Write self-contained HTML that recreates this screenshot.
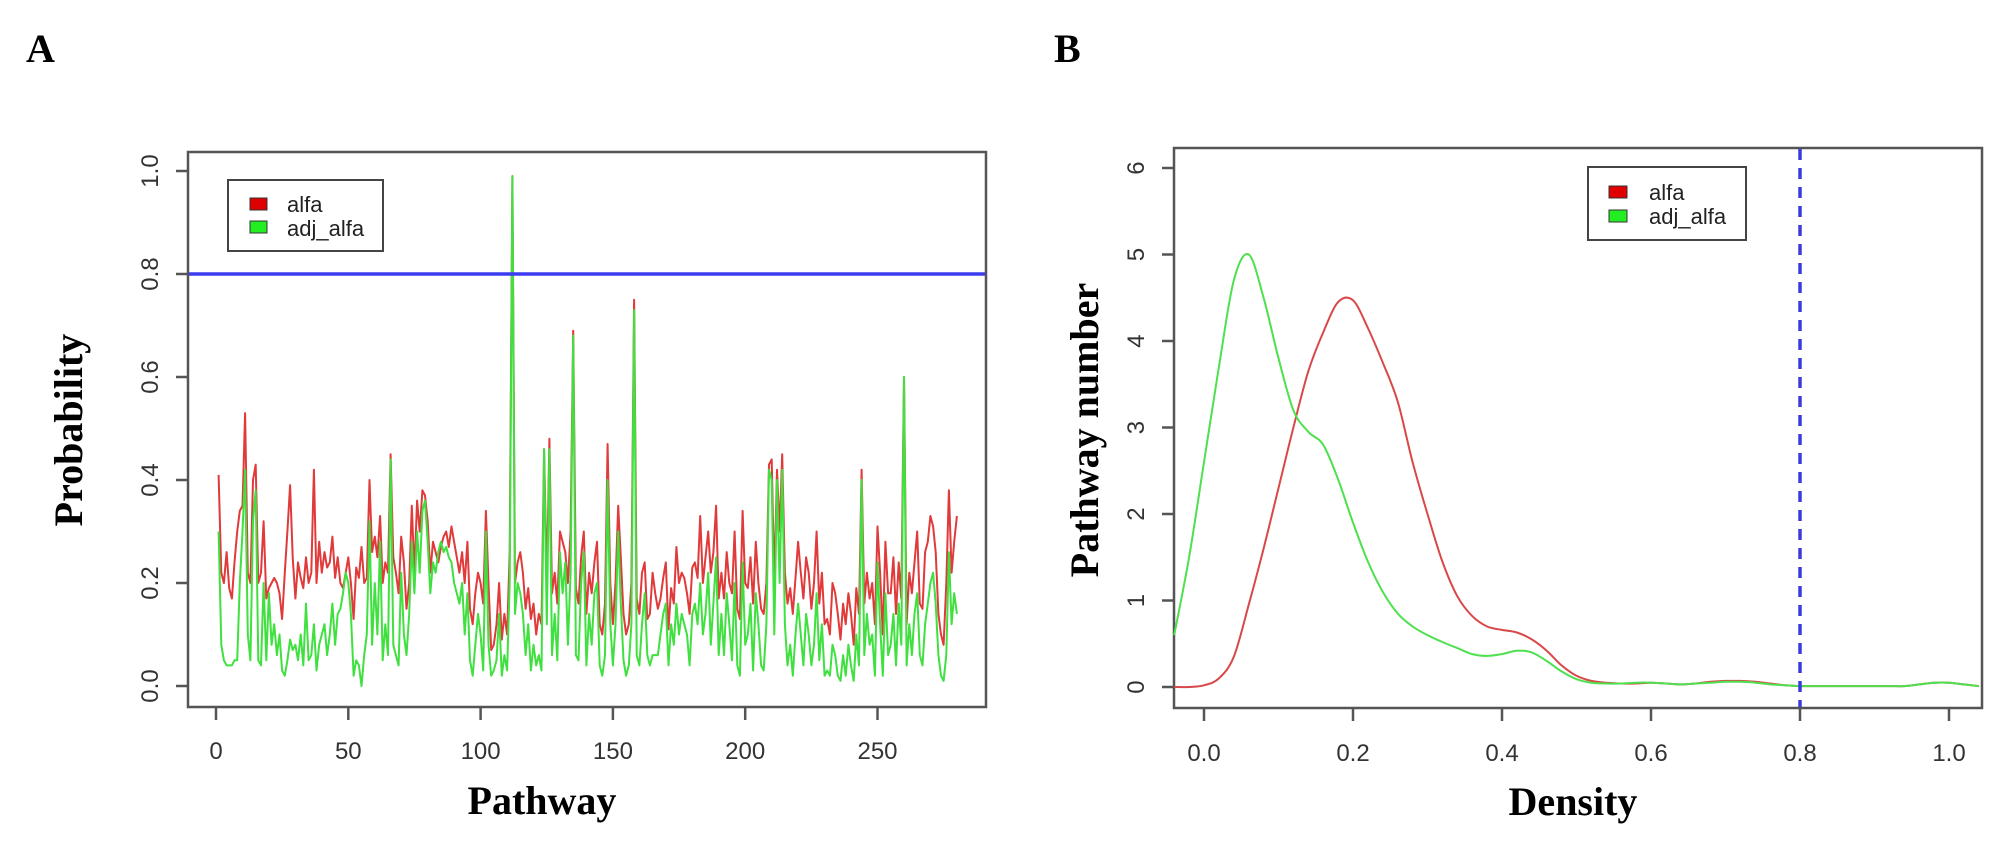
<!DOCTYPE html>
<html><head><meta charset="utf-8"><style>
html,body{margin:0;padding:0;background:#fff;}
svg{display:block;}
.tk{font-family:"Liberation Sans",sans-serif;font-size:24px;fill:#333;}
.ttl{font-family:"Liberation Serif",serif;font-weight:bold;font-size:40px;fill:#000;}
.lg{font-family:"Liberation Sans",sans-serif;font-size:22px;fill:#222;}
</style></head><body>
<svg id="chart" width="1994" height="843" viewBox="0 0 1994 843" xmlns="http://www.w3.org/2000/svg">
<text x="26" y="62" class="ttl">A</text>
<text x="1054" y="62" class="ttl">B</text>
<g id="pa"></g>
<g id="pb"></g>
</svg>
<script>
// Panel A data (percent)
const alfa = [41,22,20,26,19,17,24,30,34,35, 53,22,20,40,43,20,22,32,17,19, 20,21,20,18,13,22,30,39,25,17, 24,21,19,25,20,22,42,20,28,22,
26,23,24,29,21,25,20,19,22,25, 20,13,23,21,27,20,21,40,26,29, 25,33,20,24,22,45,25,22,18,29, 24,15,20,35,22,36,30,38,37,32,
22,28,26,24,27,29,30,27,31,28, 25,22,26,20,28,15,12,18,22,20, 16,34,20,7,8,12,20,9,14,10, 26,99,20,24,26,22,15,19,13,16,
10,14,12,46,20,48,18,22,16,30, 28,26,20,30,69,19,16,25,30,14, 22,18,24,28,12,10,16,47,20,12, 20,35,25,14,10,12,20,75,17,14,
22,24,13,14,22,18,15,17,21,24, 11,19,16,27,20,22,21,18,14,23, 24,21,33,20,25,30,22,26,35,17, 22,17,26,20,18,30,15,13,34,20,
19,25,16,28,20,15,14,20,43,44, 20,42,30,45,22,16,19,14,21,28, 22,17,25,22,15,20,30,16,22,12, 13,10,20,18,14,9,16,12,18,14,
8,19,14,42,16,22,17,20,12,31, 22,10,28,18,18,25,14,24,17,60, 12,22,18,24,30,16,15,26,28,33, 31,26,14,10,8,20,38,22,28,33];
const adjAlfa = [30,8,5,4,4,4,5,5,20,30, 42,10,5,32,38,5,4,20,5,18, 8,12,6,10,3,2,5,9,7,8, 5,10,4,16,5,6,12,3,8,10,
12,6,10,16,8,14,15,18,22,20, 14,2,5,4,0,6,10,32,8,20, 10,28,5,12,6,44,8,6,4,22, 10,6,14,28,18,30,22,34,36,28,
18,24,22,26,28,26,27,25,24,20, 18,16,20,10,18,5,2,8,14,10, 3,30,8,2,3,5,14,2,6,3, 20,99,14,20,18,14,6,12,3,8,
4,6,3,46,12,46,6,14,5,26, 18,24,8,22,68,6,5,20,26,4, 14,8,18,20,4,2,6,40,12,4, 12,30,16,5,2,4,12,73,6,4,
12,18,6,4,6,6,6,10,14,16, 4,12,8,16,10,14,12,10,4,14, 16,12,20,10,14,22,8,16,25,6, 14,6,18,12,5,20,4,2,24,8,
10,16,3,18,12,4,3,12,42,40, 10,40,20,42,12,4,8,2,10,16, 10,4,14,10,4,8,18,5,12,2, 3,2,8,6,2,1,6,2,8,4,
1,10,4,40,6,14,8,10,2,24, 12,2,18,6,8,14,4,16,8,60, 4,12,6,14,18,6,4,12,16,20, 22,16,6,2,1,6,26,12,18,14];
const aXTicks = [0,50,100,150,200,250];
const aYTicks = [0.0,0.2,0.4,0.6,0.8,1.0];
const aThreshold = [0.8];
// Panel B data
const densX = [-0.04,-0.02,0,0.02,0.04,0.06,0.08,0.10,0.12,0.14,0.16,0.18,0.20,0.22,0.24,0.26,0.28,0.30,0.32,0.34,0.36,0.38,0.40,0.42,0.44,0.46,0.48,0.50,0.52,0.54,0.56,0.58,0.60,0.62,0.64,0.66,0.68,0.70,0.72,0.74,0.76,0.78,0.80,0.82,0.84,0.86,0.88,0.90,0.92,0.94,0.96,0.98,1.00,1.02,1.04];
const densAlfa = [0,0,0.02,0.1,0.35,0.95,1.6,2.3,3.0,3.65,4.1,4.45,4.47,4.15,3.75,3.3,2.6,2.0,1.45,1.05,0.82,0.7,0.66,0.63,0.55,0.42,0.25,0.13,0.07,0.05,0.04,0.04,0.05,0.04,0.03,0.04,0.06,0.07,0.07,0.06,0.04,0.02,0.01,0.01,0.01,0.01,0.01,0.01,0.01,0.01,0.03,0.05,0.05,0.03,0.01];
const densAdj = [0.6,1.5,2.6,3.7,4.7,5.0,4.5,3.8,3.2,2.95,2.8,2.4,1.9,1.45,1.1,0.85,0.7,0.6,0.52,0.45,0.38,0.36,0.38,0.42,0.4,0.3,0.18,0.09,0.05,0.04,0.04,0.05,0.05,0.04,0.03,0.04,0.05,0.06,0.06,0.05,0.03,0.02,0.01,0.01,0.01,0.01,0.01,0.01,0.01,0.01,0.03,0.05,0.05,0.03,0.01];
const bXTicks = [0.0,0.2,0.4,0.6,0.8,1.0];
const bYTicks = [0,1,2,3,4,5,6];
const bCutoff = [0.8];

const NS='http://www.w3.org/2000/svg';
function mk(parent,tag,attrs,text){const e=document.createElementNS(NS,tag);for(const k in attrs)e.setAttribute(k,attrs[k]);if(text!==undefined)e.textContent=text;parent.appendChild(e);return e;}

// ---------- Panel A ----------
const pa=document.getElementById('pa');
const ax=v=>216+v*2.646, ay=v=>686-v*515;
let e;
e=mk(pa,'rect',{x:188,y:152,width:798,height:555,fill:'none',stroke:'#555','stroke-width':2.5});

aXTicks.forEach(t=>{
  e=mk(pa,'line',{x1:ax(t),x2:ax(t),y1:707,y2:720,stroke:'#555','stroke-width':2.5});
  
  e=mk(pa,'text',{x:ax(t),y:759,'text-anchor':'middle',class:'tk'},String(t));
  
});
aYTicks.forEach(t=>{
  e=mk(pa,'line',{x1:176,x2:188,y1:ay(t),y2:ay(t),stroke:'#555','stroke-width':2.5});
  
  e=mk(pa,'text',{x:158,y:ay(t),'text-anchor':'middle',class:'tk',transform:`rotate(-90 158 ${ay(t)})`},t.toFixed(1));
  
});
function series(g,vals,color,name){
  const pts=vals.map((v,i)=>ax(i+1).toFixed(1)+','+ay(v/100).toFixed(1)).join(' ');
  const p=mk(g,'polyline',{points:pts,fill:'none',stroke:color,'stroke-width':2,'stroke-linejoin':'round'});
  
}
series(pa,alfa,'#e03a3a','alfa-line');
series(pa,adjAlfa,'#3fe03f','adj-alfa-line');
aThreshold.forEach(t=>{
  e=mk(pa,'line',{x1:189,x2:985,y1:ay(t),y2:ay(t),stroke:'#3b3bf0','stroke-width':3.5});
  
});
e=mk(pa,'text',{x:542,y:814,'text-anchor':'middle',class:'ttl'},'Pathway');

e=mk(pa,'text',{x:82,y:430,'text-anchor':'middle',class:'ttl',transform:'rotate(-90 82 430)'},'Probability');

const lga=mk(pa,'g',{});

mk(lga,'rect',{x:228,y:180,width:155,height:71,fill:'#fff',stroke:'#444','stroke-width':2});
mk(lga,'rect',{x:250,y:198,width:17,height:12,fill:'#e00000',stroke:'#333','stroke-width':1});
mk(lga,'rect',{x:250,y:221,width:17,height:12,fill:'#22ee22',stroke:'#333','stroke-width':1});
mk(lga,'text',{x:287,y:212,class:'lg'},'alfa');
mk(lga,'text',{x:287,y:236,class:'lg'},'adj_alfa');

// ---------- Panel B ----------
const pb=document.getElementById('pb');
const bx=v=>1204+v*745, by=v=>687-v*86.5;
e=mk(pb,'rect',{x:1174,y:148,width:808,height:560,fill:'none',stroke:'#555','stroke-width':2.5});

bXTicks.forEach(t=>{
  e=mk(pb,'line',{x1:bx(t),x2:bx(t),y1:708,y2:721,stroke:'#555','stroke-width':2.5});
  
  e=mk(pb,'text',{x:bx(t),y:761,'text-anchor':'middle',class:'tk'},t.toFixed(1));
  
});
bYTicks.forEach(t=>{
  e=mk(pb,'line',{x1:1162,x2:1174,y1:by(t),y2:by(t),stroke:'#555','stroke-width':2.5});
  
  e=mk(pb,'text',{x:1144,y:by(t),'text-anchor':'middle',class:'tk',transform:`rotate(-90 1144 ${by(t)})`},String(t));
  
});
function dens(vals,color,name){
  const P=vals.map((v,i)=>[bx(densX[i]),by(v)]);
  let d='M'+P[0][0].toFixed(1)+','+P[0][1].toFixed(1);
  for(let i=0;i<P.length-1;i++){
    const p0=P[Math.max(0,i-1)],p1=P[i],p2=P[i+1],p3=P[Math.min(P.length-1,i+2)];
    const c1=[p1[0]+(p2[0]-p0[0])/6,p1[1]+(p2[1]-p0[1])/6];
    const c2=[p2[0]-(p3[0]-p1[0])/6,p2[1]-(p3[1]-p1[1])/6];
    d+=' C'+c1[0].toFixed(1)+','+c1[1].toFixed(1)+' '+c2[0].toFixed(1)+','+c2[1].toFixed(1)+' '+p2[0].toFixed(1)+','+p2[1].toFixed(1);
  }
  const p=mk(pb,'path',{d:d,fill:'none',stroke:color,'stroke-width':2});
  
}
dens(densAlfa,'#d94848','alfa-density-line');
dens(densAdj,'#4ee04e','adj-alfa-density-line');
bCutoff.forEach(t=>{
  e=mk(pb,'line',{x1:bx(t),x2:bx(t),y1:149,y2:707,stroke:'#3b3bdd','stroke-width':3.5,'stroke-dasharray':'11 8'});
  
});
e=mk(pb,'text',{x:1573,y:815,'text-anchor':'middle',class:'ttl'},'Density');

e=mk(pb,'text',{x:1098,y:430,'text-anchor':'middle',class:'ttl',transform:'rotate(-90 1098 430)'},'Pathway number');

const lgb=mk(pb,'g',{});

mk(lgb,'rect',{x:1588,y:167,width:158,height:73,fill:'#fff',stroke:'#444','stroke-width':2});
mk(lgb,'rect',{x:1609,y:186,width:18,height:12,fill:'#e00000',stroke:'#333','stroke-width':1});
mk(lgb,'rect',{x:1609,y:210,width:18,height:12,fill:'#22ee22',stroke:'#333','stroke-width':1});
mk(lgb,'text',{x:1649,y:200,class:'lg'},'alfa');
mk(lgb,'text',{x:1649,y:224,class:'lg'},'adj_alfa');
</script>
</body></html>
